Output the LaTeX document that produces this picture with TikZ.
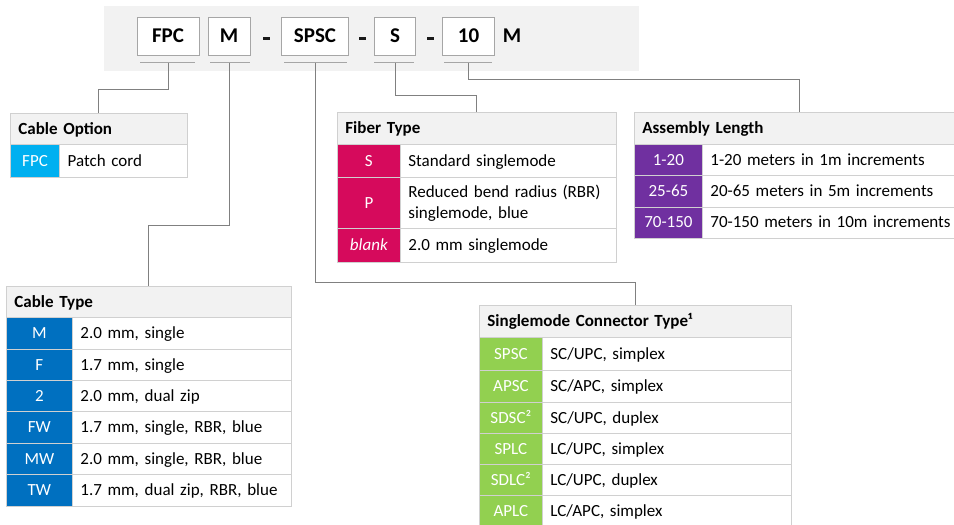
\documentclass[tikz,border=0pt]{standalone}
\usepackage{fontspec}
\setmainfont{Carlito}
\definecolor{band}{HTML}{F2F2F2}
\definecolor{hdrfill}{HTML}{F2F2F2}
\definecolor{grid}{HTML}{D0D0D0}
\definecolor{boxline}{HTML}{A6A6A6}
\definecolor{connc}{HTML}{808080}
\definecolor{cyanc}{HTML}{00B0F0}
\definecolor{magc}{HTML}{D60A5C}
\definecolor{purc}{HTML}{7030A0}
\definecolor{bluec}{HTML}{0070C0}
\definecolor{greenc}{HTML}{92D050}
\newcommand\tc[7]{%
  \pgfmathsetmacro\tcw{#4-#2}%
  \pgfmathsetmacro\tch{#5-#3}%
  \pgfmathsetmacro\tctw{#4-#2-16}%
  \node[#6, minimum width=\tcw pt, minimum height=\tch pt, anchor=north west] (#1) at (#2,#3) {#7};}
\begin{document}
\begin{tikzpicture}[x=1pt,y=-1pt,
  every node/.style={font=\fontsize{17}{21}\selectfont},
  topbox/.style={draw=boxline, fill=white, line width=0.8pt, inner sep=0pt, minimum height=38.5pt,
    font=\fontsize{21}{25}\selectfont\bfseries, text height=15pt, text depth=3.4pt},
  toptxt/.style={inner sep=0pt, font=\fontsize{21}{25}\selectfont\bfseries, text height=15pt, text depth=3.4pt},
  dashbar/.style={fill=black!90, inner sep=0pt, minimum width=7pt, minimum height=3pt},
  uline/.style={draw=boxline, line width=0.8pt},
  conn/.style={draw=connc, line width=0.9pt},
  cellbase/.style={draw=grid, line width=0.8pt, inner ysep=0pt},
  oneline/.style={text height=13.5pt, text depth=2.5pt},
  hdr/.style={cellbase, oneline, fill=hdrfill, font=\fontsize{17}{21}\selectfont\bfseries,
    align=left, text width=\tctw pt, inner xsep=8pt},
  code/.style={cellbase, oneline, fill=#1, text=white, inner xsep=0pt},
  desc/.style={cellbase, oneline, fill=white, align=left, text width=\tctw pt, inner xsep=8pt},
  desctwo/.style={cellbase, fill=white, align=left, text width=\tctw pt, inner xsep=8pt},
]
\useasboundingbox (0,0) rectangle (954,525);
\clip (0,0) rectangle (954,525);
\fill[white] (0,0) rectangle (954,525);

% part number band
\fill[band] (104,6) rectangle (639,71);
\node[topbox, minimum width=62pt] (bFPC) at (168,36.5) {FPC};
\node[topbox, minimum width=42pt] (bM) at (229,36.5) {M};
\node[dashbar] (dash1) at (266,38.5) {};
\node[topbox, minimum width=67pt] (bSPSC) at (315,36.5) {SPSC};
\node[dashbar] (dash2) at (362,38.5) {};
\node[topbox, minimum width=41pt] (bS) at (395,36.5) {S};
\node[dashbar] (dash3) at (430.6,38.5) {};
\node[topbox, minimum width=52pt] (b10) at (468.6,36.5) {10};
\node[toptxt] (mtxt) at (512,36.5) {M};

% underlines
\coordinate (ly) at (0,62.5);
\draw[uline] (140,62.5) -- (195,62.5);
\draw[uline] (210,62.5) -- (250,62.5);
\draw[uline] (284,62.5) -- (347,62.5);
\draw[uline] (374,62.5) -- (414,62.5);
\draw[uline] (444,62.5) -- (492,62.5);
\coordinate (uFPC) at (bFPC.south |- ly);
\coordinate (uM) at (bM.south |- ly);
\coordinate (uSPSC) at (bSPSC.south |- ly);
\coordinate (uS) at (bS.south |- ly);
\coordinate (u10) at (b10.south |- ly);

% Cable Option
\tc{hCO}{10}{113}{187}{144}{hdr}{Cable Option}
\tc{cCO1}{10}{144}{59.3}{177}{code=cyanc}{FPC}
\tc{dCO1}{59.3}{144}{187}{177}{desc}{Patch cord}

% Fiber Type
\tc{hFT}{337}{112}{616}{144}{hdr}{Fiber Type}
\tc{cFT1}{337}{144}{400}{177}{code=magc}{S}
\tc{dFT1}{400}{144}{616}{177}{desc}{Standard singlemode}
\tc{cFT2}{337}{177}{400}{228}{code=magc}{P}
\tc{dFT2}{400}{177}{616}{228}{desctwo}{Reduced bend radius (RBR)\\singlemode, blue}
\tc{cFT3}{337}{228}{400}{262}{code=magc}{\itshape blank}
\tc{dFT3}{400}{228}{616}{262}{desc}{2.0 mm singlemode}

% Assembly Length
\tc{hAL}{634}{112}{964}{143.5}{hdr}{Assembly Length}
\tc{cAL1}{634}{143.5}{702}{175}{code=purc}{1-20}
\tc{dAL1}{702}{143.5}{964}{175}{desc}{1-20 meters in 1m increments}
\tc{cAL2}{634}{175}{702}{206.5}{code=purc}{25-65}
\tc{dAL2}{702}{175}{964}{206.5}{desc}{20-65 meters in 5m increments}
\tc{cAL3}{634}{206.5}{702}{237.5}{code=purc}{70-150}
\tc{dAL3}{702}{206.5}{964}{237.5}{desc}{70-150 meters in 10m increments}

% Cable Type
\tc{hCT}{6}{286}{291}{317}{hdr}{Cable Type}
\tc{cCT1}{6}{317}{72}{349}{code=bluec}{M}
\tc{dCT1}{72}{317}{291}{349}{desc}{2.0 mm, single}
\tc{cCT2}{6}{349}{72}{379.5}{code=bluec}{F}
\tc{dCT2}{72}{349}{291}{379.5}{desc}{1.7 mm, single}
\tc{cCT3}{6}{379.5}{72}{411}{code=bluec}{2}
\tc{dCT3}{72}{379.5}{291}{411}{desc}{2.0 mm, dual zip}
\tc{cCT4}{6}{411}{72}{442.5}{code=bluec}{FW}
\tc{dCT4}{72}{411}{291}{442.5}{desc}{1.7 mm, single, RBR, blue}
\tc{cCT5}{6}{442.5}{72}{474}{code=bluec}{MW}
\tc{dCT5}{72}{442.5}{291}{474}{desc}{2.0 mm, single, RBR, blue}
\tc{cCT6}{6}{474}{72}{506}{code=bluec}{TW}
\tc{dCT6}{72}{474}{291}{506}{desc}{1.7 mm, dual zip, RBR, blue}

% Singlemode Connector Type
\tc{hSC}{479}{305}{791}{337}{hdr}{Singlemode Connector Type¹}
\tc{cSC1}{479}{337}{542}{370}{code=greenc}{SPSC}
\tc{dSC1}{542}{337}{791}{370}{desc}{SC/UPC, simplex}
\tc{cSC2}{479}{370}{542}{401.5}{code=greenc}{APSC}
\tc{dSC2}{542}{370}{791}{401.5}{desc}{SC/APC, simplex}
\tc{cSC3}{479}{401.5}{542}{433}{code=greenc}{SDSC²}
\tc{dSC3}{542}{401.5}{791}{433}{desc}{SC/UPC, duplex}
\tc{cSC4}{479}{433}{542}{464}{code=greenc}{SPLC}
\tc{dSC4}{542}{433}{791}{464}{desc}{LC/UPC, simplex}
\tc{cSC5}{479}{464}{542}{495}{code=greenc}{SDLC²}
\tc{dSC5}{542}{464}{791}{495}{desc}{LC/UPC, duplex}
\tc{cSC6}{479}{495}{542}{527}{code=greenc}{APLC}
\tc{dSC6}{542}{495}{791}{527}{desc}{LC/APC, simplex}

% connectors
\draw[conn] (uFPC) -- ++(0,26.5) -| (hCO.north);
\draw[conn] (uM) -- ++(0,162.5) -| (hCT.north);
\draw[conn] (uSPSC) -- ++(0,219.5) -| (hSC.north);
\draw[conn] (uS) -- ++(0,32.5) -| (hFT.north);
\draw[conn] (u10) -- ++(0,16.5) -| (hAL.north);
\end{tikzpicture}
\end{document}
